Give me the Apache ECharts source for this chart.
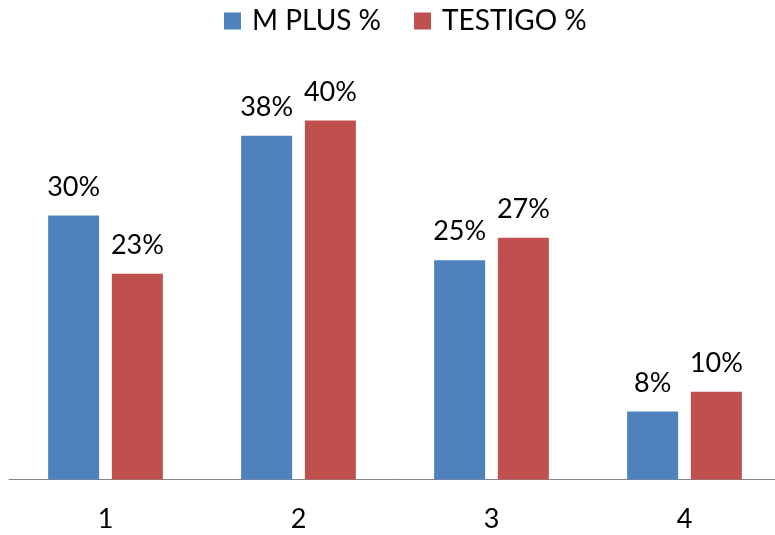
<!DOCTYPE html>
<html>
<head>
<meta charset="utf-8">
<script src="https://cdn.jsdelivr.net/npm/echarts@6/dist/echarts.min.js"></script>
<style>html,body{margin:0;padding:0;background:#fff}#c{width:775px;height:535px}</style>
</head>
<body>
<div id="c"></div>
<script>
var categories = ['1', '2', '3', '4'];
var seriesNames = ['M PLUS %', 'TESTIGO %'];
var mPlus = [29.5, 38.4, 24.5, 7.6];
var testigo = [23.0, 40.1, 27.0, 9.8];
var FONT = 'Lato';
var chart = echarts.init(document.getElementById('c'));
function lbl(v){ return Math.round(v) + '%'; }
chart.setOption({
  animation: false,
  textStyle: { fontFamily: FONT },
  legend: {
    left: 219, top: 2,
    itemWidth: 17, itemHeight: 17, itemGap: 33,
    icon: 'rect',
    textStyle: { fontFamily: FONT, fontSize: 28, color: '#000', padding: [0, 0, 0, 6] },
    data: seriesNames
  },
  grid: { left: 9, width: 772, top: 32, height: 447.5, containLabel: false, outerBoundsMode: 'none' },
  xAxis: {
    type: 'category', data: categories,
    axisLine: { lineStyle: { color: '#868686', width: 1 } },
    axisTick: { show: false },
    axisLabel: { fontFamily: FONT, fontSize: 27, color: '#000', margin: 26 }
  },
  yAxis: { type: 'value', min: 0, max: 50, show: false, splitLine: { show: false } },
  series: [
    { name: seriesNames[0], type: 'bar', data: mPlus, barWidth: 51, barGap: '25%',
      itemStyle: { color: '#4F81BD' },
      label: { show: true, position: 'top', distance: 15, fontFamily: FONT, fontSize: 27, color: '#000', formatter: function(p){ return lbl(p.value); } } },
    { name: seriesNames[1], type: 'bar', data: testigo, barWidth: 51,
      itemStyle: { color: '#C0504D' },
      label: { show: true, position: 'top', distance: 15, fontFamily: FONT, fontSize: 27, color: '#000', formatter: function(p){ return lbl(p.value); } } }
  ]
});
</script>
</body>
</html>
